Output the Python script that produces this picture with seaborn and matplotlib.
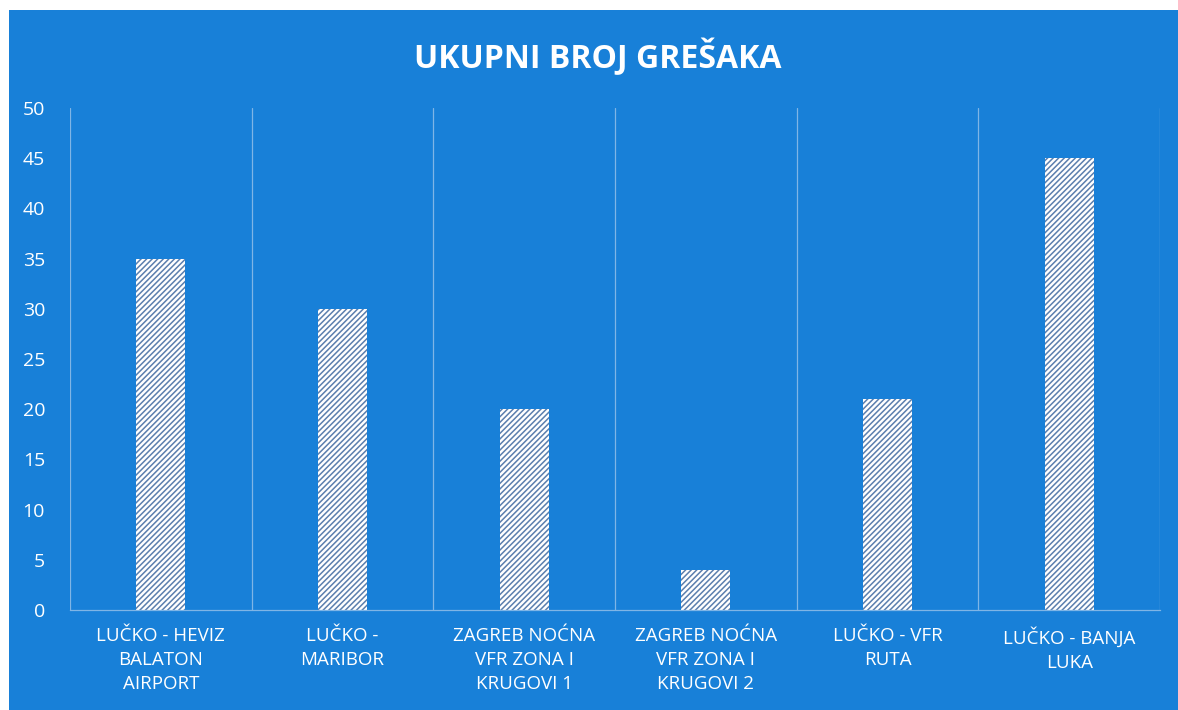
import matplotlib
matplotlib.use("Agg")
import matplotlib.pyplot as plt
import seaborn as sns
import pandas as pd
from matplotlib.patches import Rectangle

categories = ["LUČKO - HEVIZ\nBALATON\nAIRPORT", "LUČKO -\nMARIBOR",
              "ZAGREB NOĆNA\nVFR ZONA I\nKRUGOVI 1", "ZAGREB NOĆNA\nVFR ZONA I\nKRUGOVI 2",
              "LUČKO - VFR\nRUTA", "LUČKO - BANJA\nLUKA"]
values = [35, 30, 20, 4, 21, 45]
yticks = [0, 5, 10, 15, 20, 25, 30, 35, 40, 45, 50]
title = "UKUPNI BROJ GREŠAKA"

BLUE = "#1880d8"
sns.set_theme(style="white")
plt.rcParams['font.family'] = ['Open Sans', 'DejaVu Sans']
plt.rcParams['hatch.linewidth'] = 1.1

fig = plt.figure(figsize=(11.78, 7.10), dpi=100, facecolor=BLUE)
# white scan margins at top and left
fig.patches.append(Rectangle((0, 1 - 10/710), 1, 10/710, transform=fig.transFigure,
                             facecolor="white", edgecolor="none", zorder=-10))
fig.patches.append(Rectangle((0, 0), 9/1178, 1, transform=fig.transFigure,
                             facecolor="white", edgecolor="none", zorder=-10))
ax = fig.add_axes([70/1178, 1 - 610/710, 1090/1178, 502/710])
ax.set_facecolor(BLUE)

df = pd.DataFrame({"cat": categories, "val": values})
sns.barplot(data=df, x="cat", y="val", color="white", width=0.27, ax=ax, saturation=1)
for p in ax.patches:
    p.set_facecolor("white")
    p.set_edgecolor("#5b7fae")
    p.set_linewidth(0)
    p.set_hatch("//////")

ax.set_xlim(-0.5, len(categories) - 0.5)
ax.set_ylim(0, 50)
ax.set_yticks(yticks)
ax.set_yticklabels([str(t) for t in yticks], color="white", fontsize=14)
ax.set_xticks(range(len(categories)))
ax.set_xticklabels(categories, color="white", fontsize=13.5, linespacing=1.45)
ax.set_xticks([i - 0.5 for i in range(len(categories) + 1)], minor=True)
ax.grid(False)
ax.grid(True, which="minor", axis="x", color="#7fb5e6", linewidth=0.9)
ax.tick_params(axis="both", which="both", length=0)
ax.tick_params(axis="x", pad=12)
ax.tick_params(axis="y", pad=18)
ax.set_xlabel("")
ax.set_ylabel("")
for s in ["top", "right", "left"]:
    ax.spines[s].set_visible(False)
ax.spines["bottom"].set_color("#7fb5e6")
ax.spines["bottom"].set_linewidth(0.9)

fig.text(598/1178, 1 - 57/710, title, color="white", fontsize=23, fontweight="bold",
         ha="center", va="center")

fig.savefig("out.png", dpi=100, facecolor=fig.get_facecolor())
